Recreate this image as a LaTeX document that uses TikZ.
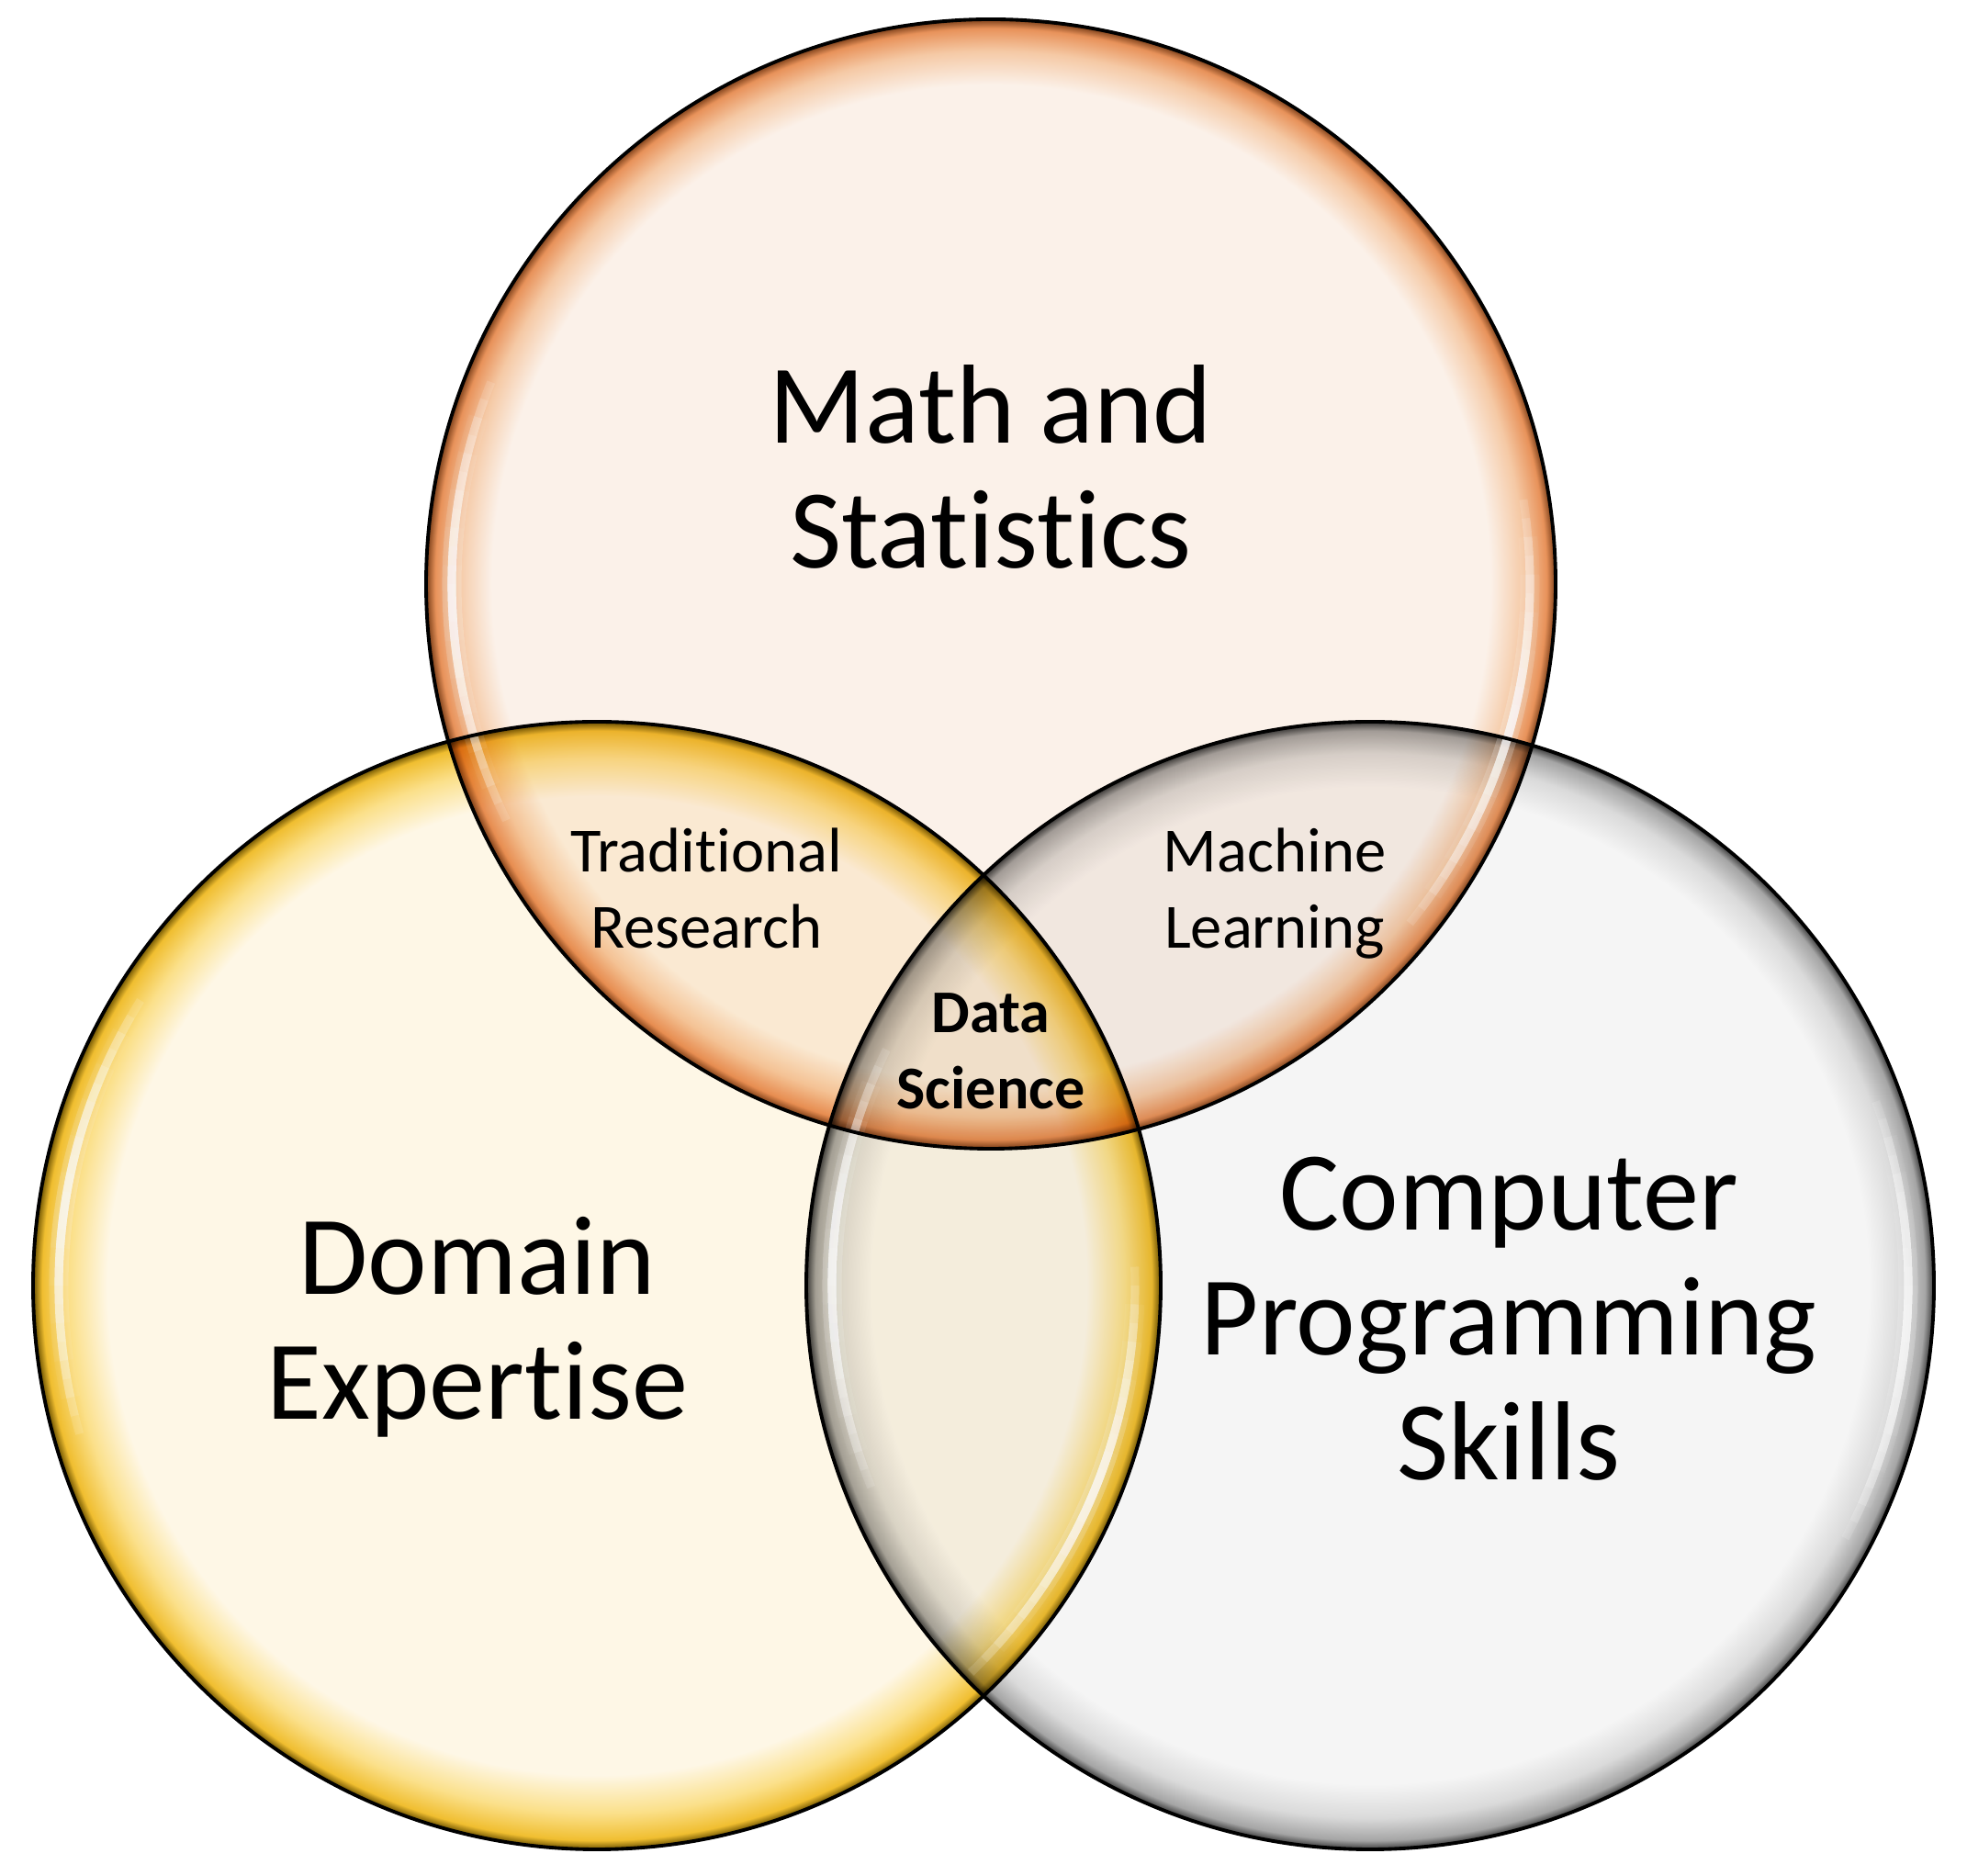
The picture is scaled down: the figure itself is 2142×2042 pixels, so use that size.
\documentclass[tikz,border=0pt]{standalone}
\usepackage{fontspec}
\setmainfont{Carlito}[Ligatures={NoCommon,NoContextual}]
\definecolor{topfill}{HTML}{FBF1E9}
\definecolor{topmid}{HTML}{F5C9A5}
\definecolor{topedge}{HTML}{E8925A}
\definecolor{topdark}{HTML}{7A3E18}
\definecolor{leftfill}{HTML}{FEF7E6}
\definecolor{leftmid}{HTML}{FBE08A}
\definecolor{leftedge}{HTML}{F0BE30}
\definecolor{leftdark}{HTML}{6A5000}
\definecolor{rightfill}{HTML}{F5F5F5}
\definecolor{rightmid}{HTML}{DADADA}
\definecolor{rightedge}{HTML}{A5A5A5}
\definecolor{rightdark}{HTML}{3A3A3A}
\pgfdeclareradialshading{topglow}{\pgfpoint{0bp}{0bp}}{color(0bp)=(topfill); color(22.1bp)=(topfill); color(23.6bp)=(topmid); color(24.6bp)=(topedge); color(25bp)=(topdark); color(50bp)=(topdark)}
\pgfdeclareradialshading{leftglow}{\pgfpoint{0bp}{0bp}}{color(0bp)=(leftfill); color(21.7bp)=(leftfill); color(23.4bp)=(leftmid); color(24.6bp)=(leftedge); color(25bp)=(leftdark); color(50bp)=(leftdark)}
\pgfdeclareradialshading{rightglow}{\pgfpoint{0bp}{0bp}}{color(0bp)=(rightfill); color(22.1bp)=(rightfill); color(23.6bp)=(rightmid); color(24.6bp)=(rightedge); color(25bp)=(rightdark); color(50bp)=(rightdark)}
\tikzset{
  bigtext/.style={align=center, anchor=base, font=\fontsize{34.8pt}{38.7pt}\selectfont},
  smalltext/.style={align=center, anchor=base, font=\fontsize{19.5pt}{23.6pt}\selectfont},
  boldtext/.style={align=center, anchor=base, font=\fontsize{18.8pt}{23.6pt}\selectfont\bfseries},
  rim/.style={draw=black, line width=1.1pt},
}
\newcommand\glint[3]{% center, radius, mid angle
  \foreach \w in {2,4,...,24} {
    \draw[white, line width=2.6pt, opacity=0.13, line cap=butt]
      ([shift={(#3-\w:#2)}]#1) arc[start angle=#3-\w, end angle=#3+\w, radius=#2];
  }
  \foreach \w in {4,8,...,20} {
    \draw[white, line width=6pt, opacity=0.05, line cap=butt]
      ([shift={(#3-\w:#2)}]#1) arc[start angle=#3-\w, end angle=#3+\w, radius=#2];
  }
}
\begin{document}
\begin{tikzpicture}[x=0.01cm, y=0.01cm]
\useasboundingbox (0,0) rectangle (2142,2042);
\fill[white] (0,0) rectangle (2142,2042);
\coordinate (T) at (1079,1406);
\coordinate (L) at (650,642);
\coordinate (R) at (1492,642);
% shaded discs
\shade[shading=topglow, blend mode=multiply] (T) circle (615);
\shade[shading=leftglow, blend mode=multiply] (L) circle (614);
\shade[shading=rightglow, blend mode=multiply] (R) circle (614);
% highlights
\glint{T}{587}{182}
\glint{T}{587}{-15}
\glint{L}{586}{172}
\glint{L}{586}{-22}
\glint{R}{586}{-4}
\glint{R}{586}{178}
% outlines
\draw[rim] (T) circle (615);
\draw[rim] (L) circle (614);
\draw[rim] (R) circle (614);
% labels (anchor = baseline of last line)
\node[bigtext] (math) at (1079,1423) {Math and\\Statistics};
\node[bigtext] (domain) at (520,496) {Domain\\Expertise};
\node[bigtext] (comp) at (1643,430) {Computer\\Programming\\Skills};
\node[smalltext] (trad) at (769,1009) {Traditional\\Research};
\node[smalltext] (ml) at (1388,1009) {Machine\\Learning};
\node[boldtext] (ds) at (1079,834) {Data\\Science};
\end{tikzpicture}
\end{document}
